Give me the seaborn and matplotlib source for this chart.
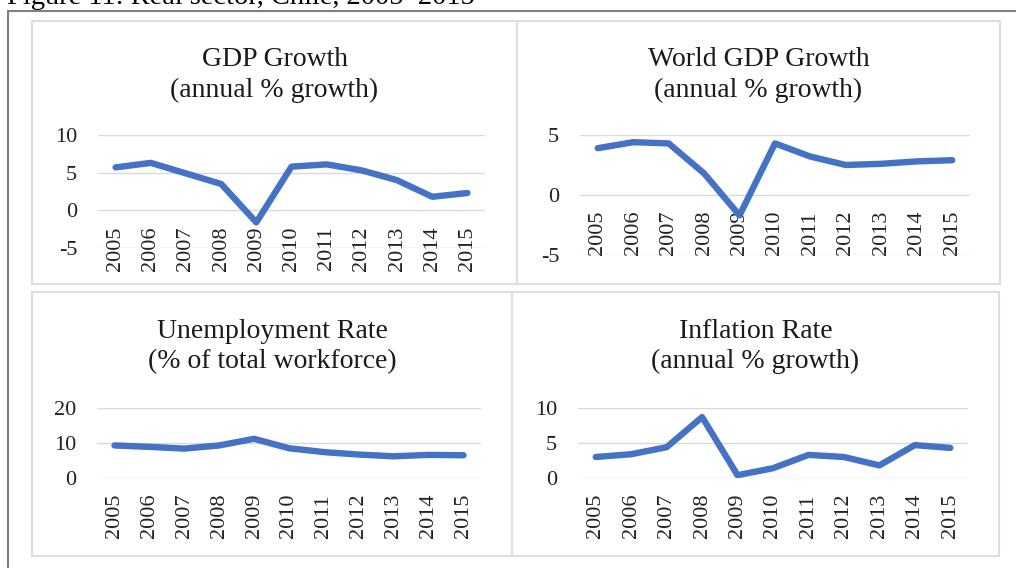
import matplotlib
matplotlib.use("Agg")
import matplotlib.pyplot as plt
from matplotlib.patches import Rectangle
from matplotlib.lines import Line2D
import seaborn as sns
import pandas as pd

# ---- data ----
years = [2005, 2006, 2007, 2008, 2009, 2010, 2011, 2012, 2013, 2014, 2015]
gdp_growth = [5.7, 6.3, 4.9, 3.5, -1.6, 5.8, 6.1, 5.3, 4.0, 1.8, 2.3]
world_gdp_growth = [3.9, 4.4, 4.3, 1.8, -1.7, 4.3, 3.2, 2.5, 2.6, 2.8, 2.9]
unemployment = [9.3, 8.9, 8.4, 9.3, 11.2, 8.5, 7.4, 6.7, 6.2, 6.6, 6.5]
inflation = [3.0, 3.4, 4.4, 8.7, 0.4, 1.4, 3.3, 3.0, 1.8, 4.7, 4.3]

titles = [
    ("GDP Growth", "(annual % growth)"),
    ("World GDP Growth", "(annual % growth)"),
    ("Unemployment Rate", "(% of total workforce)"),
    ("Inflation Rate", "(annual % growth)"),
]
yticks_list = [[-5, 0, 5, 10], [-5, 0, 5], [0, 10, 20], [0, 5, 10]]
caption = "Figure 11: Real sector, Chile, 2005\u20132015"

series = [gdp_growth, world_gdp_growth, unemployment, inflation]

sns.set_theme(style="white")
plt.rcParams["font.family"] = ["Liberation Serif", "DejaVu Serif"]

W, H = 1016, 568
fig = plt.figure(figsize=(W / 100, H / 100), dpi=100)
fig.patch.set_facecolor("white")

def fx(x):
    return x / W

def fy(y):
    return 1 - y / H

# plot-area pixel boxes (x1, x2, ytop, ybottom)
plot_boxes = [(98, 485, 135, 248), (580, 970, 135, 255),
              (97, 481, 408, 478), (578, 968, 408, 478)]
# panel boxes (x1, x2, ytop, ybottom)
panel_boxes = [(32, 517, 21, 284), (517, 1000, 21, 284),
               (32, 512, 292, 556), (512, 999, 292, 556)]
title_base = [(66, 97), (66, 97), (338, 368), (338, 368)]

# outer frame (top and left lines)
fig.add_artist(Line2D([fx(8), fx(W)], [fy(10.5), fy(10.5)], color="#7f7f7f", lw=1.5))
fig.add_artist(Line2D([fx(8), fx(8)], [fy(10.5), fy(H)], color="#7f7f7f", lw=1.5))

# caption (partly cut off at top)
fig.text(fx(7), fy(4), caption, fontsize=20.5, color="black", va="baseline", ha="left")

for i in range(4):
    px1, px2, pt, pb = panel_boxes[i]
    fig.add_artist(Rectangle((fx(px1), fy(pb)), fx(px2 - px1), (pb - pt) / H,
                             transform=fig.transFigure, fill=False,
                             edgecolor="#dedede", lw=1.5))
    x1, x2, yt, yb = plot_boxes[i]
    ax = fig.add_axes([fx(x1), fy(yb), fx(x2 - x1), (yb - yt) / H])
    ax.set_facecolor("none")
    for s in ax.spines.values():
        s.set_visible(False)
    ax.spines["bottom"].set_position(("data", 0))
    df = pd.DataFrame({"year": years, "value": series[i]})
    sns.lineplot(data=df, x="year", y="value", ax=ax, color="#4472C4", lw=4.6,
                 solid_joinstyle="round", solid_capstyle="round")
    yt_vals = yticks_list[i]
    ax.set_ylim(min(yt_vals), max(yt_vals))
    ax.set_xlim(years[0] - 0.5, years[-1] + 0.5)
    ax.set_yticks(yt_vals)
    ax.set_yticklabels([str(v) for v in yt_vals])
    ax.set_xticks(years)
    ax.set_xticklabels([str(y) for y in years])
    ax.set_xlabel("")
    ax.set_ylabel("")
    ax.grid(axis="y", color="#d9d9d9", lw=1.0)
    ax.grid(axis="x", visible=False)
    ax.set_axisbelow(True)
    ax.tick_params(axis="x", length=0, pad=11.5, labelsize=16, labelcolor="#222222",
                   labelrotation=90)
    ax.tick_params(axis="y", length=0, pad=15, labelsize=16, labelcolor="#222222")
    cx = fx((px1 + px2) / 2)
    l1, l2 = title_base[i]
    fig.text(cx, fy(l1), titles[i][0], fontsize=20, ha="center", va="baseline", color="#1a1a1a")
    fig.text(cx, fy(l2), titles[i][1], fontsize=20, ha="center", va="baseline", color="#1a1a1a")

fig.savefig("out.png", dpi=100)
